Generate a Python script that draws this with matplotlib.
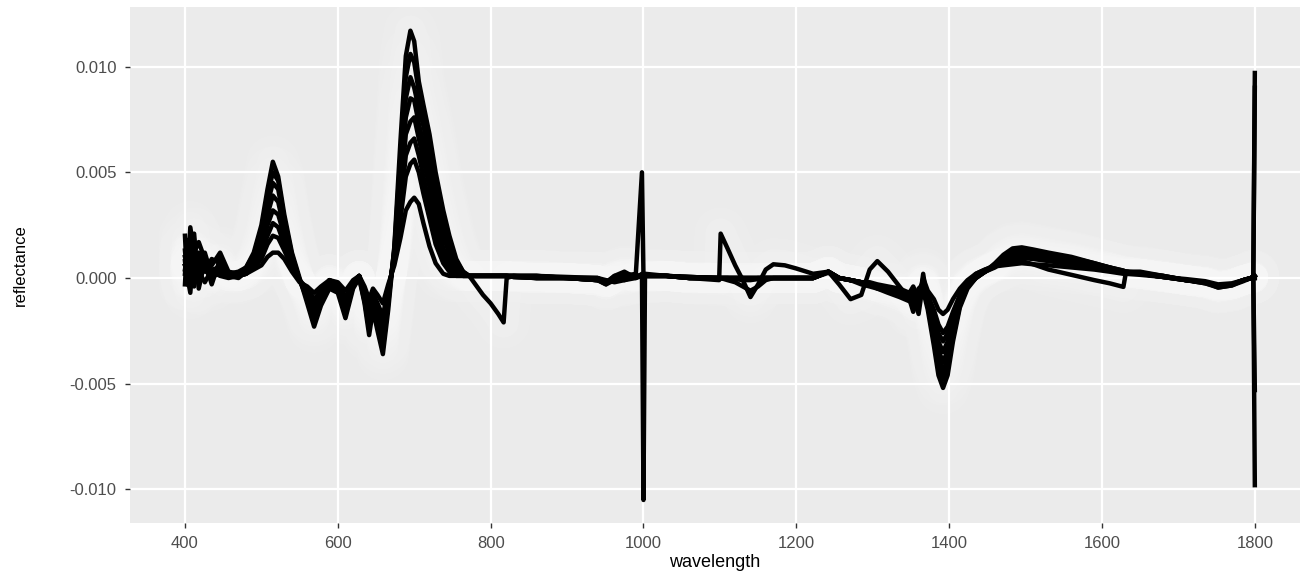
import numpy as np
import matplotlib
matplotlib.use("Agg")
import matplotlib.pyplot as plt

plt.rcParams["font.family"] = ["Liberation Sans", "DejaVu Sans"]

# wavelength grid (nm) shared by all spectra
wl = np.array([
    400, 403, 407, 412, 418, 426, 435, 446, 457, 470,
    480, 490, 500, 508, 515, 522, 530, 540, 550, 560,
    569, 578, 589, 600, 610, 620, 628, 635, 641, 646,
    652, 659, 666, 674, 682, 689, 695, 700, 706, 712,
    720, 728, 738, 746, 755, 764, 772, 780, 790, 800,
    810, 817, 821, 830, 860, 900, 940, 951, 962, 975,
    990, 998, 1000, 1002, 1030, 1060, 1099, 1101, 1110, 1120,
    1130, 1140, 1150, 1160, 1170, 1185, 1200, 1222, 1242, 1256,
    1271, 1285, 1296, 1306, 1320, 1335, 1348, 1353, 1360, 1366,
    1372, 1380, 1386, 1392, 1398, 1405, 1414, 1424, 1435, 1447,
    1460, 1471, 1483, 1495, 1510, 1530, 1560, 1590, 1610, 1628,
    1631, 1650, 1680, 1710, 1735, 1752, 1770, 1785, 1795, 1798,
    1800])

# reflectance values, in units of 1e-3
spec_a = [
    2.0, -0.3, 2.4, 1.2, 1.7, 0.9, 0.6, 1.2, 0.3, 0.2,
    0.5, 1.2, 2.5, 4.2, 5.5, 4.8, 3.0, 1.2, 0.0, -1.2,
    -2.3, -1.3, -0.5, -0.7, -1.9, -0.5, 0.0, -1.2, -2.7, -1.5,
    -2.5, -3.6, -1.5, 1.5, 6.5, 10.5, 11.7, 11.2, 9.3, 8.2,
    6.8, 5.0, 3.2, 2.0, 0.9, 0.3, 0.1, 0.1, 0.1, 0.1,
    0.1, 0.1, 0.1, 0.1, 0.1, 0.05, 0.0, -0.1, -0.2, -0.1,
    0.0, 0.2, -10.5, 0.2, 0.1, 0.05, 0.0, 0.0, 0.0, -0.05,
    -0.1, -0.1, -0.05, 0.0, 0.0, 0.0, 0.0, 0.0, 0.3, 0.0,
    -0.1, -0.2, -0.3, -0.4, -0.6, -0.8, -1.0, -1.6, -0.8, -0.6,
    -1.5, -3.2, -4.6, -5.2, -4.6, -3.0, -1.4, -0.5, 0.0, 0.3,
    0.7, 1.1, 1.4, 1.45, 1.35, 1.2, 1.0, 0.7, 0.5, 0.35,
    0.3, 0.3, 0.1, -0.1, -0.2, -0.4, -0.3, -0.1, 0.0, 0.1,
    9.7]
spec_f = [
    1.0, 0.6, 1.6, 0.8, 1.2, 0.3, 0.9, 0.7, 0.2, 0.3,
    0.5, 1.1, 2.3, 3.9, 5.0, 4.6, 2.8, 1.1, -0.1, -1.0,
    -2.0, -1.1, -0.4, -0.6, -1.7, -0.4, 0.0, -1.1, -2.4, -1.3,
    -2.2, -3.3, -1.2, 1.4, 5.8, 9.5, 10.6, 10.2, 8.8, 7.8,
    6.3, 4.6, 2.9, 1.7, 0.8, 0.3, 0.1, 0.1, 0.1, 0.1,
    0.1, 0.1, 0.1, 0.1, 0.1, 0.0, 0.0, -0.2, -0.1, 0.0,
    0.1, 0.1, 0.1, 0.1, 0.1, 0.05, 0.0, 0.0, 0.0, 0.0,
    0.0, -0.05, 0.0, 0.0, 0.0, 0.0, 0.0, 0.0, 0.3, 0.0,
    -0.1, -0.2, -0.3, -0.5, -0.6, -0.8, -1.0, -1.3, -0.9, -0.4,
    -1.3, -2.9, -4.2, -4.8, -4.2, -2.8, -1.3, -0.4, 0.0, 0.3,
    0.65, 1.05, 1.3, 1.4, 1.3, 1.15, 0.95, 0.7, 0.5, 0.35,
    0.3, 0.25, 0.1, -0.1, -0.2, -0.45, -0.35, -0.1, 0.0, 0.05,
    0.1]
spec_b = [
    -0.3, 1.8, 0.6, 2.1, -0.5, 0.8, -0.3, 0.9, 0.1, 0.1,
    0.4, 1.0, 2.0, 3.5, 4.5, 4.2, 2.6, 1.0, -0.1, -0.9,
    -1.8, -1.0, -0.3, -0.6, -1.5, -0.4, 0.1, -1.0, -2.2, -1.1,
    -2.0, -3.0, -1.0, 1.3, 5.0, 8.5, 9.5, 9.0, 8.0, 7.2,
    5.8, 4.2, 2.6, 1.5, 0.6, 0.2, 0.1, -0.3, -0.8, -1.2,
    -1.7, -2.1, 0.0, 0.1, 0.1, 0.0, -0.1, -0.3, -0.1, 0.1,
    0.2, 5.0, 0.1, 0.1, 0.1, 0.05, 0.0, 0.0, 0.0, 0.0,
    0.0, 0.0, 0.0, 0.0, 0.0, 0.0, 0.0, 0.0, 0.3, 0.0,
    -0.1, -0.3, -0.4, -0.5, -0.7, -0.9, -1.1, -0.6, -1.4, 0.2,
    -1.2, -2.6, -3.8, -4.4, -3.8, -2.5, -1.2, -0.4, 0.0, 0.3,
    0.6, 1.0, 1.25, 1.3, 1.2, 1.1, 0.9, 0.65, 0.5, 0.3,
    0.3, 0.2, 0.1, -0.1, -0.25, -0.45, -0.35, -0.15, 0.0, 0.1,
    -9.8]
spec_g = [
    0.2, 1.3, -0.2, 1.0, 0.6, 1.2, 0.1, 0.7, 0.1, 0.0,
    0.3, 0.9, 1.7, 3.0, 3.9, 3.6, 2.3, 0.9, -0.1, -0.8,
    -1.6, -0.9, -0.2, -0.5, -1.3, -0.3, 0.1, -0.9, -2.0, -1.0,
    -1.8, -2.7, -0.8, 1.1, 4.4, 7.6, 8.5, 8.4, 7.3, 6.4,
    5.0, 3.5, 2.0, 1.1, 0.4, 0.15, 0.1, 0.1, 0.1, 0.1,
    0.1, 0.1, 0.1, 0.1, 0.05, 0.0, -0.1, -0.2, 0.0, 0.1,
    0.1, 0.1, 0.1, 0.1, 0.1, 0.0, 0.0, 0.0, 0.0, 0.0,
    0.0, 0.0, 0.0, 0.0, 0.0, 0.0, 0.0, 0.0, 0.3, 0.0,
    -0.1, -0.2, -0.3, -0.4, -0.6, -0.8, -1.0, -0.9, -1.2, -0.1,
    -1.1, -2.3, -3.4, -4.0, -3.4, -2.3, -1.1, -0.3, 0.05, 0.3,
    0.55, 0.9, 1.15, 1.2, 1.15, 1.0, 0.85, 0.6, 0.45, 0.3,
    0.3, 0.2, 0.05, -0.1, -0.2, -0.4, -0.3, -0.1, 0.0, 0.05,
    0.1]
spec_c = [
    1.3, 0.1, -0.7, 1.5, 0.3, -0.2, 0.4, 0.5, 0.2, 0.1,
    0.3, 0.7, 1.4, 2.5, 3.2, 3.0, 2.0, 0.8, -0.1, -0.7,
    -1.4, -0.8, -0.2, -0.4, -1.2, -0.3, 0.1, -0.8, -1.8, -0.9,
    -1.6, -2.4, -0.7, 1.0, 3.8, 6.8, 7.4, 7.6, 6.6, 5.6,
    4.3, 2.8, 1.4, 0.7, 0.3, 0.1, 0.1, 0.1, 0.1, 0.1,
    0.1, 0.1, 0.1, 0.1, 0.0, 0.0, -0.1, -0.2, 0.0, 0.2,
    0.1, 0.1, 0.1, 0.1, 0.1, 0.0, -0.1, 2.1, 1.4, 0.6,
    -0.1, -0.9, -0.3, 0.4, 0.65, 0.6, 0.45, 0.2, 0.3, 0.0,
    -0.1, -0.2, -0.3, -0.4, -0.5, -0.7, -0.9, -1.2, -0.5, -0.3,
    -1.0, -2.0, -3.0, -3.5, -3.0, -2.0, -1.0, -0.3, 0.1, 0.3,
    0.5, 0.8, 1.0, 1.1, 1.05, 0.95, 0.8, 0.55, 0.45, 0.3,
    0.3, 0.2, 0.05, -0.1, -0.2, -0.35, -0.3, -0.1, 0.0, 0.0,
    -5.3]
spec_h = [
    0.6, 0.4, 0.9, 0.1, 0.5, 0.7, 0.2, 0.4, 0.1, 0.1,
    0.2, 0.6, 1.2, 2.0, 2.6, 2.4, 1.6, 0.6, -0.1, -0.6,
    -1.2, -0.7, -0.1, -0.3, -1.0, -0.2, 0.1, -0.7, -1.6, -0.8,
    -1.4, -2.1, -0.6, 0.9, 3.3, 5.8, 6.4, 6.6, 5.8, 4.8,
    3.5, 2.2, 1.0, 0.5, 0.2, 0.1, 0.1, 0.1, 0.1, 0.1,
    0.1, 0.1, 0.1, 0.05, 0.0, 0.0, -0.1, -0.2, 0.05, 0.2,
    0.05, 0.1, 0.1, 0.1, 0.1, 0.0, 0.0, 0.0, 0.0, 0.0,
    0.0, 0.0, 0.0, 0.0, 0.0, 0.0, 0.0, 0.0, 0.3, 0.0,
    -0.1, -0.2, -0.3, -0.4, -0.5, -0.6, -0.8, -1.0, -0.6, -0.2,
    -0.9, -1.7, -2.6, -3.0, -2.6, -1.8, -0.9, -0.25, 0.15, 0.35,
    0.55, 0.75, 0.9, 0.95, 0.9, 0.8, 0.65, 0.5, 0.35, 0.25,
    0.25, 0.2, 0.05, -0.1, -0.2, -0.35, -0.3, -0.1, 0.0, 0.0,
    0.0]
spec_d = [
    0.4, 1.0, 0.2, -0.4, 0.9, 0.4, 0.0, 0.3, 0.1, 0.1,
    0.2, 0.5, 0.9, 1.6, 2.0, 1.9, 1.3, 0.5, -0.1, -0.5,
    -1.0, -0.6, -0.1, -0.3, -0.9, -0.2, 0.1, -0.6, -1.4, -0.7,
    -1.2, -1.8, -0.5, 0.8, 2.8, 4.8, 5.4, 5.6, 5.0, 4.0,
    2.8, 1.6, 0.7, 0.3, 0.1, 0.1, 0.1, 0.1, 0.1, 0.1,
    0.1, 0.1, 0.1, 0.05, 0.0, 0.0, -0.1, -0.3, 0.1, 0.3,
    0.0, 0.1, 0.1, 0.1, 0.1, 0.0, 0.0, 0.0, -0.1, -0.2,
    -0.4, -0.6, -0.4, -0.1, 0.0, 0.0, 0.0, 0.0, 0.3, -0.3,
    -1.0, -0.8, 0.4, 0.8, 0.3, -0.4, -1.0, -0.8, -1.7, -0.2,
    -0.8, -1.5, -2.2, -2.6, -2.3, -1.6, -0.8, -0.2, 0.2, 0.4,
    0.6, 0.7, 0.8, 0.8, 0.65, 0.4, 0.15, -0.1, -0.25, -0.42,
    0.2, 0.2, 0.05, -0.1, -0.25, -0.4, -0.3, -0.1, 0.0, 0.0,
    0.0]
spec_e = [
    0.8, -0.2, 1.4, 0.5, 0.2, 1.0, 0.3, 0.1, 0.0, 0.1,
    0.2, 0.4, 0.6, 1.0, 1.2, 1.2, 0.9, 0.3, -0.2, -0.4,
    -0.7, -0.4, -0.1, -0.2, -0.6, -0.1, 0.1, -0.4, -1.0, -0.5,
    -0.8, -1.2, -0.3, 0.6, 1.9, 3.2, 3.6, 3.8, 3.5, 2.6,
    1.5, 0.7, 0.2, 0.1, 0.1, 0.1, 0.1, 0.1, 0.1, 0.1,
    0.1, 0.1, 0.1, 0.05, 0.0, 0.0, 0.0, -0.2, 0.1, -0.1,
    0.1, 0.1, 0.1, 0.1, 0.1, 0.0, 0.0, 0.0, 0.0, 0.0,
    0.0, 0.0, 0.0, 0.0, 0.0, 0.0, 0.0, 0.0, 0.25, 0.0,
    -0.1, -0.2, -0.2, -0.3, -0.4, -0.5, -0.7, -0.4, -1.0, 0.0,
    -0.6, -1.0, -1.5, -1.7, -1.5, -1.0, -0.5, -0.1, 0.2, 0.4,
    0.55, 0.6, 0.65, 0.7, 0.65, 0.6, 0.5, 0.4, 0.3, 0.2,
    0.2, 0.15, 0.05, -0.05, -0.15, -0.3, -0.25, -0.1, 0.0, 0.0,
    9.0]

spectra = [spec_a, spec_f, spec_b, spec_g, spec_c, spec_h, spec_d, spec_e]
x_ticks = [400, 600, 800, 1000, 1200, 1400, 1600, 1800]
y_ticks = [-0.010, -0.005, 0.000, 0.005, 0.010]

fig = plt.figure(figsize=(13.02, 5.75), dpi=100)
ax = fig.add_axes([0.0998, 0.0904, 0.8986, 0.8974])
ax.set_facecolor("#EBEBEB")

# soft white glow behind the curves (not on the edge spikes)
mask = (wl < 995) | ((wl > 1002) & (wl < 1799))
for s in spectra:
    y = np.array(s) * 1e-3
    for lw, a in [(60, 0.035), (38, 0.06), (22, 0.11)]:
        ax.plot(wl[mask], y[mask], color="white", lw=lw, alpha=a,
                solid_capstyle="round", solid_joinstyle="round", zorder=1)

for s in spectra:
    ax.plot(wl, np.array(s) * 1e-3, color="black", lw=3.2,
            solid_joinstyle="round", zorder=3)

ax.set_xlim(328, 1859)
ax.set_ylim(-0.01159, 0.01282)
ax.set_xticks(x_ticks)
ax.set_yticks(y_ticks)
ax.set_yticklabels(["-0.010", "-0.005", "0.000", "0.005", "0.010"])
ax.grid(True, color="white", lw=1.6, zorder=0)
ax.set_axisbelow(True)
for sp in ax.spines.values():
    sp.set_visible(False)
ax.tick_params(colors="#333333", length=3.5, width=1, labelsize=12,
               labelcolor="#4D4D4D", pad=6)
ax.set_xlabel("wavelength", fontsize=13, labelpad=2)
ax.set_ylabel("reflectance", fontsize=12, labelpad=30)

fig.savefig("out.png", dpi=100)
